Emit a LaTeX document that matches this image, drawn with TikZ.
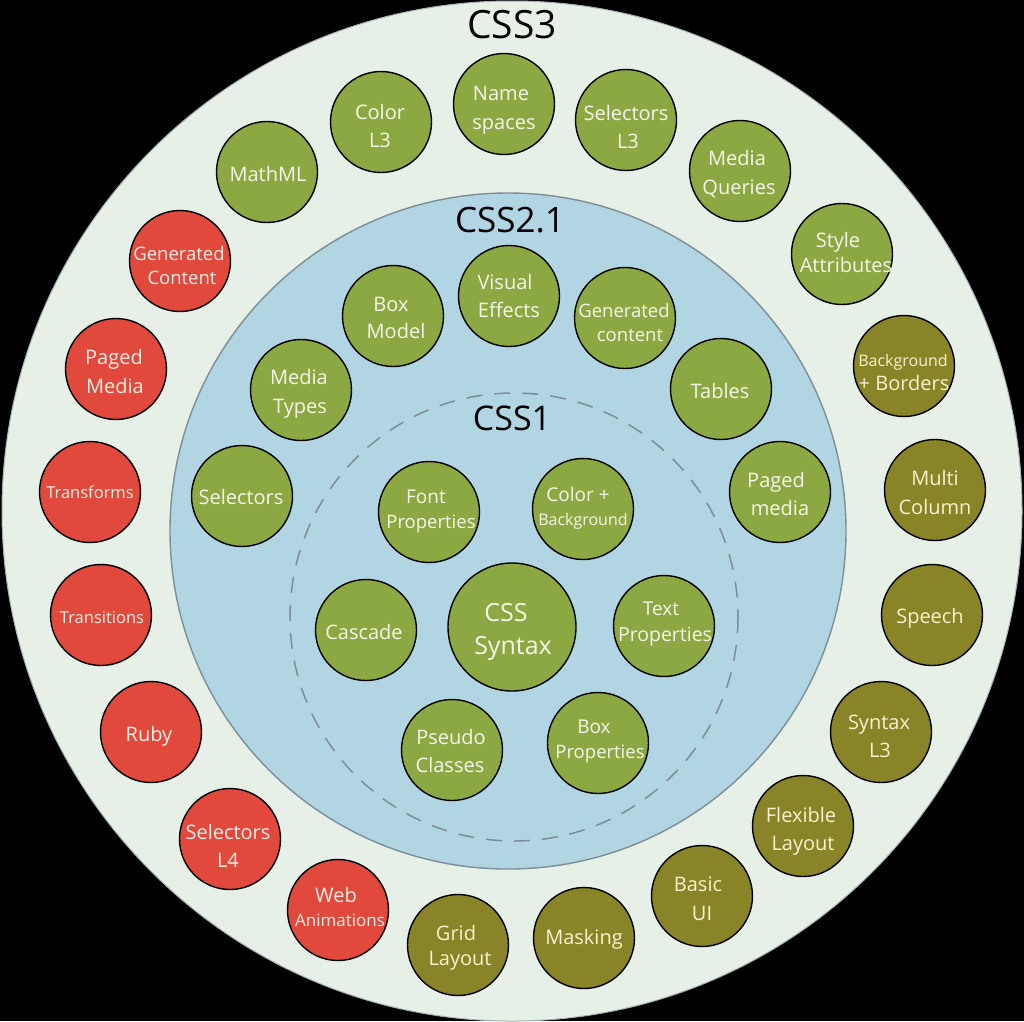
\documentclass[tikz,border=0pt]{standalone}
\usepackage{fontspec}
\setmainfont{Open Sans}
\definecolor{outerbg}{HTML}{E7F0E6}
\definecolor{bluebg}{HTML}{B1D5E3}
\definecolor{gfill}{HTML}{8CA842}
\definecolor{rfill}{HTML}{E0493B}
\definecolor{ofill}{HTML}{8A8428}
\definecolor{gtext}{HTML}{F4F6EA}
\definecolor{otext}{HTML}{F7F2CC}
\definecolor{rtext}{HTML}{FCEDE6}
\definecolor{ringedge}{HTML}{7E8E96}
\tikzset{
  bub/.style={circle, draw=black, line width=1.4pt, minimum size=101pt, inner sep=0pt},
  gb/.style={bub, fill=gfill},
  rb/.style={bub, fill=rfill},
  ob/.style={bub, fill=ofill},
  lbl/.style={inner sep=0pt, anchor=base},
  gl/.style={lbl, text=gtext},
  rl/.style={lbl, text=rtext},
  ol/.style={lbl, text=otext},
  ttl/.style={lbl, text=black},
}
\newcommand\fsz[1]{\fontsize{#1}{#1}\selectfont}
% \lab{style}{size}{x}{y of cap middle}{text}{name}
\newcommand\lab[6]{\node[#1, font=\fsz{#2}] (#6) at (#3,{#4+0.36*#2}) {#5};}
\begin{document}
\begin{tikzpicture}[x=1pt,y=-1pt]
\fill[black] (0,0) rectangle (1024,1021);
\useasboundingbox (0,0) rectangle (1024,1021);
% rings
\path[fill=outerbg, draw=ringedge!70, line width=1pt] (512,511) circle (510);
\path[fill=bluebg, draw=ringedge, line width=1.4pt] (508,531) circle (338);
\draw[ringedge, line width=1.5pt, dash pattern=on 16pt off 12pt] (514,617) circle (224);
% titles
\lab{ttl}{39}{512}{24}{CSS3}{t3}
\lab{ttl}{35}{510}{220}{CSS2.1}{t21}
\lab{ttl}{34}{512}{418}{CSS1}{t1}
% CSS3 ring
\node[gb] (ns) at (504,104) {};
\node[gb] (col3) at (381,122) {};
\node[gb] (mathml) at (267,172) {};
\node[rb] (gen) at (180,261) {};
\node[rb] (paged) at (116,369) {};
\node[rb] (transf) at (90,492) {};
\node[rb] (transi) at (101,615) {};
\node[rb] (ruby) at (151,732) {};
\node[rb] (sel4) at (230,839) {};
\node[rb] (webanim) at (338,910) {};
\node[ob] (grid) at (458,945) {};
\node[ob] (mask) at (584,938) {};
\node[ob] (basicui) at (702,896) {};
\node[ob] (flex) at (803,826) {};
\node[ob] (syn3) at (881,732) {};
\node[ob] (speech) at (932,615) {};
\node[ob] (multicol) at (935,490) {};
\node[ob] (bgb) at (904,366) {};
\node[gb] (style) at (842,254) {};
\node[gb] (mq) at (740,171) {};
\node[gb] (sel3) at (626,120) {};
% CSS2.1 ring
\node[gb] (vis) at (509,296) {};
\node[gb] (box) at (393,316) {};
\node[gb] (mt) at (301,390) {};
\node[gb] (sel) at (242,496) {};
\node[gb] (genc) at (625,318) {};
\node[gb] (tables) at (721,389) {};
\node[gb] (pm) at (780,492) {};
% CSS1
\node[gb] (font) at (429,512) {};
\node[gb] (colbg) at (583,509) {};
\node[gb] (casc) at (366,630) {};
\node[gb, minimum size=128pt] (syntax) at (512,627) {};
\node[gb] (textp) at (664,626) {};
\node[gb] (pseudo) at (452,750) {};
\node[gb] (boxp) at (598,743) {};
% labels CSS3
\lab{gl}{20}{501}{93}{Name}{ns1}
\lab{gl}{20}{504}{122}{spaces}{ns2}
\lab{gl}{20}{380}{112}{Color}{col31}
\lab{gl}{20}{380}{140}{L3}{col32}
\lab{gl}{20}{268}{174}{MathML}{mathml1}
\lab{rl}{18.5}{179}{254}{Generated}{gen1}
\lab{rl}{18.5}{182}{278}{Content}{gen2}
\lab{rl}{20}{114}{357}{Paged}{paged1}
\lab{rl}{20}{115}{386}{Media}{paged2}
\lab{rl}{16.5}{90}{493}{Transforms}{transf1}
\lab{rl}{16.5}{102}{618}{Transitions}{transi1}
\lab{rl}{20}{149}{734}{Ruby}{ruby1}
\lab{rl}{20}{228}{832}{Selectors}{sel41}
\lab{rl}{20}{228}{860}{L4}{sel42}
\lab{rl}{20}{336}{895}{Web}{webanim1}
\lab{rl}{17}{340}{920}{Animations}{webanim2}
\lab{ol}{20}{456}{933}{Grid}{grid1}
\lab{ol}{20}{460}{958}{Layout}{grid2}
\lab{ol}{20}{584}{937}{Masking}{mask1}
\lab{ol}{20}{698}{884}{Basic}{basicui1}
\lab{ol}{20}{702}{913}{UI}{basicui2}
\lab{ol}{20}{801}{815}{Flexible}{flex1}
\lab{ol}{20}{803}{843}{Layout}{flex2}
\lab{ol}{20}{879}{722}{Syntax}{syn31}
\lab{ol}{20}{880}{750}{L3}{syn32}
\lab{ol}{20}{930}{616}{Speech}{speech1}
\lab{ol}{20}{935}{478}{Multi}{multicol1}
\lab{ol}{20}{935}{507}{Column}{multicol2}
\lab{ol}{16}{903}{361}{Background}{bgb1}
\lab{ol}{20}{904}{383}{+ Borders}{bgb2}
\lab{gl}{20}{838}{240}{Style}{style1}
\lab{gl}{20}{846}{265}{Attributes}{style2}
\lab{gl}{20}{737}{158}{Media}{mq1}
\lab{gl}{20}{739}{187}{Queries}{mq2}
\lab{gl}{20}{626}{113}{Selectors}{sel31}
\lab{gl}{20}{628}{141}{L3}{sel32}
% labels CSS2.1
\lab{gl}{20}{505}{282}{Visual}{vis1}
\lab{gl}{20}{509}{310}{Effects}{vis2}
\lab{gl}{20}{391}{304}{Box}{box1}
\lab{gl}{20}{396}{331}{Model}{box2}
\lab{gl}{20}{299}{377}{Media}{mt1}
\lab{gl}{20}{300}{406}{Types}{mt2}
\lab{gl}{20}{241}{497}{Selectors}{sel1}
\lab{gl}{18.5}{624}{311}{Generated}{genc1}
\lab{gl}{18.5}{630}{335}{content}{genc2}
\lab{gl}{20}{720}{391}{Tables}{tables1}
\lab{gl}{20}{776}{480}{Paged}{pm1}
\lab{gl}{20}{780}{508}{media}{pm2}
% labels CSS1
\lab{gl}{19}{426}{497}{Font}{font1}
\lab{gl}{18.5}{431}{522}{Properties}{font2}
\lab{gl}{19}{578}{495}{Color +}{colbg1}
\lab{gl}{16}{583}{520}{Background}{colbg2}
\lab{gl}{20}{364}{632}{Cascade}{casc1}
\lab{gl}{25}{506}{612}{CSS}{syntax1}
\lab{gl}{25}{513}{645}{Syntax}{syntax2}
\lab{gl}{19}{661}{609}{Text}{textp1}
\lab{gl}{19.5}{665}{634}{Properties}{textp2}
\lab{gl}{20}{451}{737}{Pseudo}{pseudo1}
\lab{gl}{20}{450}{765}{Classes}{pseudo2}
\lab{gl}{19}{594}{727}{Box}{boxp1}
\lab{gl}{18.5}{600}{752}{Properties}{boxp2}
\end{tikzpicture}
\end{document}
